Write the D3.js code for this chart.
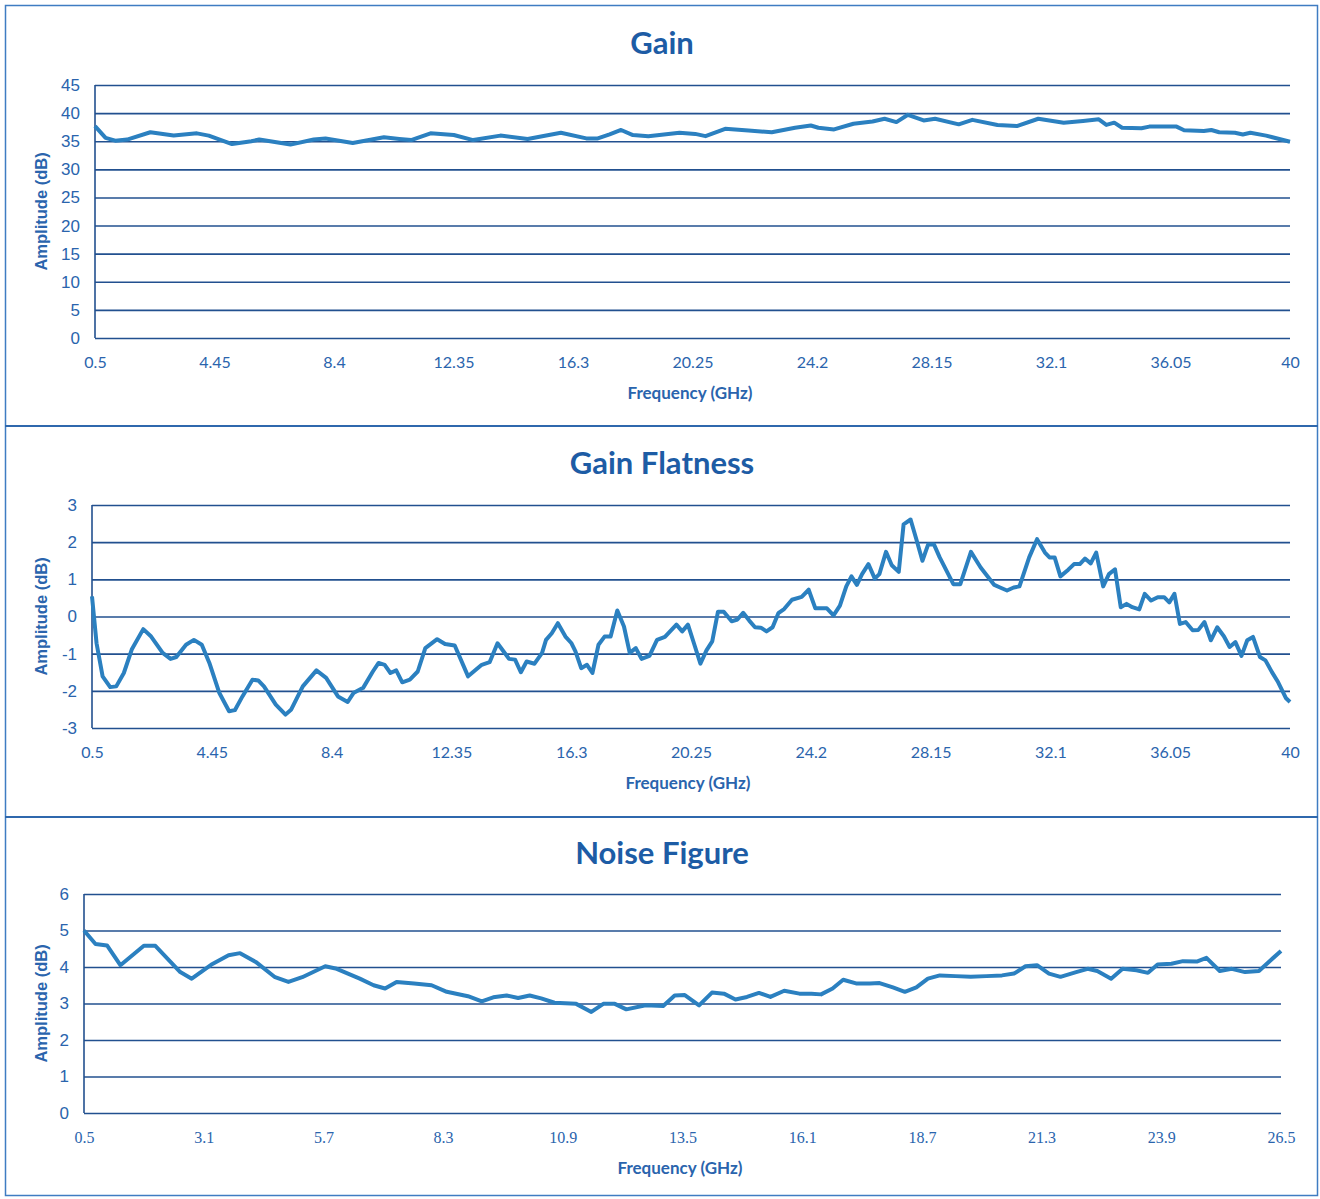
<!DOCTYPE html>
<html>
<head>
<meta charset="utf-8">
<script src="https://cdn.jsdelivr.net/npm/d3@7/dist/d3.min.js"></script>
<style>
	html, body { margin: 0; padding: 0; background: #fff; }
	svg text { font-family: Lato, 'Open Sans', sans-serif; }
</style>
</head>
<body>
<svg id="chart" width="1320" height="1199"></svg>
<script>
// gain (dB) vs frequency (GHz)
var gainFreq = [0.5, 0.85, 1.17, 1.56, 2.33, 3.1, 3.87, 4.26, 5.03, 5.67, 5.93, 6.96, 7.73, 8.12, 9.02, 10.05, 10.56, 10.95, 11.59, 12.36, 13.0, 13.9, 14.8, 15.9, 16.74, 17.12, 17.51, 17.89, 18.28, 18.79, 19.82, 20.34,
	20.68, 21.33, 22.1, 22.87, 23.64, 24.16, 24.41, 24.93, 25.57, 26.2, 26.6, 26.99, 27.37, 27.89, 28.27, 29.05, 29.5, 30.33, 30.97, 31.68, 32.52, 33.16, 33.68, 33.93, 34.19, 34.45, 35.09, 35.35, 36.25, 36.5, 37.15, 37.4, 37.66, 38.18, 38.44, 38.69, 39.21, 40];
var gainDb = [37.7, 35.6, 35.1, 35.3, 36.6, 36.0, 36.4, 36.0, 34.5, 35.0, 35.3, 34.4, 35.3, 35.5, 34.7, 35.7, 35.4, 35.2, 36.4, 36.1, 35.2, 36.0, 35.4, 36.5, 35.5, 35.5, 36.2, 37.0, 36.1, 35.9, 36.5, 36.3,
	35.9, 37.2, 36.9, 36.6, 37.4, 37.8, 37.4, 37.1, 38.1, 38.5, 39.0, 38.4, 39.7, 38.7, 39.0, 38.0, 38.8, 37.9, 37.7, 39.0, 38.3, 38.6, 38.9, 37.9, 38.3, 37.4, 37.3, 37.6, 37.6, 36.95, 36.8, 37.0, 36.6, 36.5, 36.2, 36.5, 36.0, 34.9];

// gain flatness (dB) vs frequency (GHz)
var flatFreq = [0.5, 0.65, 0.85, 1.1, 1.3, 1.55, 1.81, 2.19, 2.45, 2.83, 3.09, 3.28, 3.6, 3.86, 4.12, 4.37, 4.7, 5.02, 5.21, 5.46, 5.79, 5.98, 6.17, 6.56, 6.88, 7.07, 7.45, 7.9, 8.22, 8.61, 8.93, 9.12, 9.44, 9.76, 9.95, 10.15, 10.34, 10.53, 10.73, 10.98,
	11.24, 11.49, 11.88, 12.14, 12.46, 12.9, 13.35, 13.61, 13.87, 14.25, 14.45, 14.64, 14.83, 15.09, 15.34, 15.47, 15.66, 15.86, 16.11, 16.31, 16.44, 16.63, 16.82, 17.0, 17.2, 17.4, 17.6, 17.82, 18.04, 18.23,
	18.43, 18.62, 18.88, 19.13, 19.39, 19.77, 19.96, 20.15, 20.37, 20.56, 20.76, 20.95, 21.14, 21.33, 21.59, 21.78, 21.97, 22.17, 22.36, 22.55, 22.74, 22.94, 23.13, 23.32, 23.58, 23.9, 24.13, 24.35, 24.73, 24.95,
	25.16, 25.37, 25.54, 25.72, 25.89, 26.1, 26.31, 26.46, 26.68, 26.87, 27.1, 27.26, 27.49, 27.68, 27.88, 28.07, 28.26, 28.45, 28.9, 29.13, 29.48, 29.8, 30.25, 30.44, 30.67, 30.89, 31.08, 31.4, 31.66, 31.92,
	32.07, 32.24, 32.43, 32.69, 32.88, 33.07, 33.24, 33.43, 33.61, 33.84, 34.03, 34.23, 34.42, 34.61, 34.8, 35.03, 35.21, 35.42, 35.64, 35.85, 36.02, 36.19, 36.37, 36.56, 36.79, 36.98, 37.18, 37.39, 37.6, 37.82,
	38.01, 38.2, 38.4, 38.59, 38.78, 39.01, 39.19, 39.4, 39.61, 39.87, 40];
var flatDb = [0.54, -0.72, -1.61, -1.90, -1.88, -1.52, -0.89, -0.34, -0.54, -0.98, -1.14, -1.09, -0.76, -0.63, -0.76, -1.25, -2.06, -2.55, -2.52, -2.15, -1.70, -1.72, -1.88, -2.37, -2.64, -2.50, -1.88, -1.45, -1.65, -2.15, -2.30, -2.06, -1.92, -1.48, -1.25, -1.30, -1.52, -1.45, -1.77, -1.70,
	-1.48, -0.85, -0.61, -0.74, -0.78, -1.61, -1.30, -1.23, -0.72, -1.14, -1.16, -1.50, -1.21, -1.27, -0.98, -0.63, -0.45, -0.18, -0.54, -0.72, -0.94, -1.39, -1.30, -1.52, -0.76, -0.54, -0.54, 0.16, -0.27, -0.98,
	-0.85, -1.14, -1.06, -0.63, -0.55, -0.22, -0.40, -0.22, -0.78, -1.27, -0.91, -0.67, 0.13, 0.13, -0.13, -0.08, 0.10, -0.11, -0.29, -0.30, -0.40, -0.29, 0.09, 0.20, 0.45, 0.53, 0.72, 0.22, 0.22, 0.03,
	0.29, 0.81, 1.08, 0.85, 1.14, 1.41, 1.02, 1.14, 1.74, 1.38, 1.20, 2.48, 2.61, 2.08, 1.50, 1.94, 1.94, 1.59, 0.87, 0.87, 1.74, 1.32, 0.85, 0.78, 0.70, 0.78, 0.81, 1.59, 2.08, 1.72,
	1.59, 1.59, 1.08, 1.26, 1.41, 1.41, 1.56, 1.43, 1.72, 0.81, 1.14, 1.27, 0.25, 0.34, 0.25, 0.19, 0.61, 0.43, 0.52, 0.52, 0.38, 0.61, -0.20, -0.15, -0.37, -0.36, -0.15, -0.64, -0.29, -0.53,
	-0.82, -0.69, -1.06, -0.64, -0.55, -1.09, -1.18, -1.49, -1.77, -2.20, -2.30];

// noise figure (dB) vs frequency (GHz)
var nfFreq = [0.5, 0.75, 1.0, 1.29, 1.8, 2.05, 2.59, 2.84, 3.26, 3.64, 3.89, 4.23, 4.65, 4.94, 5.24, 5.74, 5.99, 6.49, 6.79, 7.04, 7.29, 7.67, 8.05, 8.38, 8.84, 9.14, 9.39, 9.68, 9.93, 10.18, 10.43, 10.72, 11.19, 11.52, 11.78, 12.03, 12.28, 12.7, 13.08, 13.33,
	13.55, 13.86, 14.14, 14.4, 14.65, 14.9, 15.16, 15.41, 15.71, 16.04, 16.3, 16.51, 16.76, 16.99, 17.27, 17.57, 17.78, 18.07, 18.33, 18.58, 18.83, 19.09, 19.43, 19.76, 20.1, 20.44, 20.7, 20.95, 21.2, 21.46,
	21.71, 22.05, 22.3, 22.51, 22.81, 23.06, 23.36, 23.61, 23.82, 24.12, 24.37, 24.67, 24.88, 25.17, 25.43, 25.72, 26.02, 26.27, 26.5];
var nfDb = [5.0, 4.63, 4.59, 4.05, 4.58, 4.58, 3.86, 3.68, 4.06, 4.32, 4.38, 4.14, 3.72, 3.59, 3.72, 4.02, 3.95, 3.68, 3.50, 3.41, 3.59, 3.55, 3.50, 3.32, 3.20, 3.06, 3.17, 3.22, 3.15, 3.22, 3.14, 3.02, 2.99, 2.77, 2.99, 2.99, 2.84, 2.95, 2.93, 3.22,
	3.23, 2.95, 3.30, 3.27, 3.11, 3.18, 3.29, 3.18, 3.35, 3.27, 3.27, 3.25, 3.41, 3.65, 3.55, 3.55, 3.56, 3.44, 3.32, 3.44, 3.68, 3.77, 3.75, 3.73, 3.75, 3.77, 3.82, 4.02, 4.05, 3.82,
	3.73, 3.86, 3.95, 3.89, 3.68, 3.95, 3.91, 3.84, 4.07, 4.09, 4.16, 4.15, 4.25, 3.89, 3.95, 3.86, 3.89, 4.18, 4.44];

// axis ticks
var ticksWide = [0.5, 4.45, 8.4, 12.35, 16.3, 20.25, 24.2, 28.15, 32.1, 36.05, 40];
var ticksNf = [0.5, 3.1, 5.7, 8.3, 10.9, 13.5, 16.1, 18.7, 21.3, 23.9, 26.5];
var gainYTicks = [0, 5, 10, 15, 20, 25, 30, 35, 40, 45];
var flatYTicks = [-3, -2, -1, 0, 1, 2, 3];
var nfYTicks = [0, 1, 2, 3, 4, 5, 6];

var titleColor = '#1d5ca5';
var gridColor = '#22508f';
var textColor = '#2a64ad';
var lineColor = '#2b80c0';

var svg = d3.select('#chart');

// outer frame and dividers
svg.append('rect')
	.attr('x', 5.5).attr('y', 5.5)
	.attr('width', 1312).attr('height', 1190)
	.attr('fill', 'none')
	.attr('stroke', '#3f7cc2')
	.attr('stroke-width', 1.5);

[426, 817].forEach(function(y) {
	svg.append('line')
		.attr('x1', 5).attr('x2', 1318)
		.attr('y1', y).attr('y2', y)
		.attr('stroke', '#2f68ad')
		.attr('stroke-width', 2);
});

var panels = [
	{
		title: 'Gain', titleY: 54,
		left: 95, right: 1290, top: 85, bottom: 338,
		xDomain: [0.5, 40], yDomain: [0, 45],
		xTicks: ticksWide, yTicks: gainYTicks,
		freq: gainFreq, values: gainDb,
		serifTicks: false, labelX: 690
	},
	{
		title: 'Gain Flatness', titleY: 474,
		left: 92, right: 1290, top: 505, bottom: 728,
		xDomain: [0.5, 40], yDomain: [-3, 3],
		xTicks: ticksWide, yTicks: flatYTicks,
		freq: flatFreq, values: flatDb,
		serifTicks: false, labelX: 688
	},
	{
		title: 'Noise Figure', titleY: 864,
		left: 84, right: 1281, top: 894, bottom: 1113,
		xDomain: [0.5, 26.5], yDomain: [0, 6],
		xTicks: ticksNf, yTicks: nfYTicks,
		freq: nfFreq, values: nfDb,
		serifTicks: true, labelX: 680
	}
];

panels.forEach(drawPanel);

function drawPanel(p) {
	var g = svg.append('g');

	var x = d3.scaleLinear().domain(p.xDomain).range([p.left, p.right]);
	var y = d3.scaleLinear().domain(p.yDomain).range([p.bottom, p.top]);

	g.append('text')
		.attr('x', 662)
		.attr('y', p.titleY)
		.attr('text-anchor', 'middle')
		.attr('font-size', 31)
		.attr('font-weight', 'bold')
		.attr('fill', titleColor)
		.text(p.title);

	// horizontal grid
	var yAxis = g.append('g')
		.attr('transform', 'translate(' + p.left + ',0)')
		.call(d3.axisLeft(y).tickValues(p.yTicks).tickSize(-(p.right - p.left)).tickPadding(15).tickFormat(function(d) {
			return String(d);
		}));

	yAxis.select('.domain').remove();
	yAxis.selectAll('.tick line')
		.attr('stroke', gridColor)
		.attr('stroke-width', 1.6);
	yAxis.selectAll('.tick text')
		.attr('fill', textColor)
		.attr('font-size', 17)
		.style('font-family', "'Liberation Sans', Arial, sans-serif");

	// left axis line
	g.append('line')
		.attr('x1', p.left).attr('x2', p.left)
		.attr('y1', p.top).attr('y2', p.bottom)
		.attr('stroke', gridColor)
		.attr('stroke-width', 1.6);

	var xAxis = g.append('g')
		.attr('transform', 'translate(0,' + p.bottom + ')')
		.call(d3.axisBottom(x).tickValues(p.xTicks).tickSize(0).tickPadding(19).tickFormat(function(d) {
			return String(d);
		}));

	xAxis.select('.domain').remove();
	xAxis.selectAll('.tick text')
		.attr('fill', textColor)
		.attr('font-size', 16)
		.style('font-family', p.serifTicks ? "'Liberation Serif', 'DejaVu Serif', serif" : "Lato, 'Open Sans', sans-serif");

	g.append('text')
		.attr('x', p.labelX)
		.attr('y', p.bottom + 61)
		.attr('text-anchor', 'middle')
		.attr('font-size', 17)
		.attr('font-weight', 'bold')
		.attr('fill', textColor)
		.text('Frequency (GHz)');

	g.append('text')
		.attr('transform', 'translate(47,' + ((p.top + p.bottom) / 2) + ') rotate(-90)')
		.attr('text-anchor', 'middle')
		.attr('font-size', 16.5)
		.attr('font-weight', 'bold')
		.attr('fill', textColor)
		.style('font-family', "'Liberation Sans', Arial, sans-serif")
		.text('Amplitude (dB)');

	var line = d3.line()
		.x(function(d, i) { return x(p.freq[i]); })
		.y(function(d) { return y(d); });

	g.append('path')
		.datum(p.values)
		.attr('fill', 'none')
		.attr('stroke', lineColor)
		.attr('stroke-width', 4)
		.attr('stroke-linejoin', 'round')
		.attr('d', line);
}
</script>
</body>
</html>
